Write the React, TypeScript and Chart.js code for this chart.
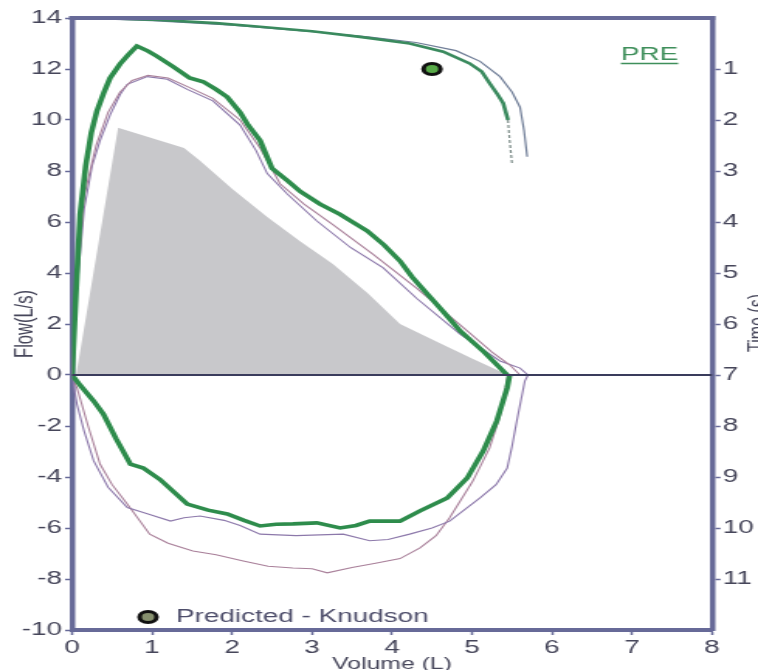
import React, { useEffect, useRef } from 'react';
import { Chart, registerables } from 'chart.js';

Chart.register(...registerables);

// ---------- data ----------
const volumeTicks = [0, 1, 2, 3, 4, 5, 6, 7, 8];
const flowTicks = [-10, -8, -6, -4, -2, 0, 2, 4, 6, 8, 10, 12, 14];
const timeTicks = [1, 2, 3, 4, 5, 6, 7, 8, 9, 10, 11];

const predictedArea = [
  [0.05, 0], [0.575, 9.7], [1.4, 8.9], [1.6, 8.4], [2.0, 7.3], [2.44, 6.2], [2.85, 5.25],
  [3.26, 4.35], [3.7, 3.2], [4.1, 2.0], [4.6, 1.25], [5.0, 0.65], [5.45, 0],
];

const predictedPoint = [[4.5, 12]];

const greenExp = [
  [0, 0], [0.03, 2], [0.07, 4.5], [0.1, 6.3], [0.17, 8.2], [0.24, 9.5], [0.31, 10.35], [0.4, 11.1],
  [0.475, 11.65], [0.6, 12.2], [0.7, 12.55], [0.81, 12.9], [0.95, 12.7], [1.06, 12.5], [1.26, 12.1],
  [1.47, 11.65], [1.64, 11.5], [1.8, 11.2], [1.94, 10.9], [2.1, 10.3], [2.2, 9.8], [2.35, 9.2],
  [2.5, 8.1], [2.7, 7.6], [2.85, 7.2], [3.1, 6.7], [3.35, 6.3], [3.69, 5.65], [3.9, 5.1], [4.1, 4.47],
  [4.25, 3.85], [4.44, 3.18], [4.65, 2.45], [4.85, 1.73], [5.15, 0.9], [5.44, 0],
];

const greenInsp = [
  [0, 0], [0.1, -0.4], [0.27, -1.02], [0.39, -1.53], [0.55, -2.5], [0.73, -3.5], [0.89, -3.65],
  [1.1, -4.1], [1.44, -5.06], [1.7, -5.3], [1.94, -5.45], [2.15, -5.7], [2.35, -5.92], [2.55, -5.85],
  [2.76, -5.84], [3.06, -5.8], [3.35, -6.0], [3.55, -5.9], [3.72, -5.73], [4.1, -5.73], [4.35, -5.33],
  [4.69, -4.82], [4.94, -4.04], [5.14, -2.98], [5.31, -1.8], [5.44, -0.5], [5.47, 0],
];

const thinExpA = [
  [0, 0], [0.05, 3], [0.15, 6.5], [0.25, 8.2], [0.35, 9.2], [0.475, 10.2], [0.6, 11.0], [0.69, 11.4],
  [0.94, 11.7], [1.19, 11.6], [1.44, 11.2], [1.76, 10.75], [2.1, 9.8], [2.3, 8.8], [2.44, 7.9],
  [2.69, 7.1], [3.06, 6.04], [3.48, 5.0], [3.89, 4.2], [4.31, 3.0], [4.85, 1.6], [5.35, 0.55],
  [5.6, 0.27], [5.7, 0],
];

const thinExpB = [
  [0, 0], [0.05, 3.2], [0.15, 7], [0.3, 9.0], [0.45, 10.3], [0.6, 11.1], [0.75, 11.55], [0.95, 11.75],
  [1.2, 11.65], [1.45, 11.3], [1.76, 10.85], [2.1, 10.0], [2.35, 8.9], [2.6, 7.5], [2.9, 6.7],
  [3.26, 5.9], [3.76, 4.74], [4.31, 3.4], [4.94, 1.73], [5.25, 0.9], [5.47, 0.4], [5.6, 0],
];

const thinInspC = [
  [0, 0], [0.03, -0.6], [0.06, -1.14], [0.15, -2.2], [0.27, -3.37], [0.45, -4.4], [0.69, -5.2],
  [0.95, -5.45], [1.23, -5.73], [1.4, -5.6], [1.6, -5.53], [1.9, -5.7], [2.1, -5.9], [2.35, -6.24],
  [2.8, -6.3], [3.39, -6.24], [3.72, -6.5], [3.95, -6.45], [4.22, -6.24], [4.5, -6.0], [4.72, -5.73],
  [5.1, -4.82], [5.3, -4.3], [5.44, -3.65], [5.5, -2.8], [5.56, -1.8], [5.66, -0.24], [5.7, 0],
];

const thinInspD = [
  [0, 0], [0.03, -0.3], [0.06, -0.5], [0.2, -2.0], [0.35, -3.5], [0.5, -4.3], [0.69, -5.06],
  [0.97, -6.24], [1.2, -6.6], [1.51, -6.9], [1.8, -7.05], [2.14, -7.29], [2.45, -7.5], [2.76, -7.57],
  [3.0, -7.6], [3.19, -7.76], [3.5, -7.55], [3.81, -7.37], [4.1, -7.2], [4.35, -6.78], [4.55, -6.3],
  [4.72, -5.6], [5.01, -4.16], [5.22, -2.86], [5.35, -1.6], [5.45, 0],
];

// volume-time curves (time in seconds on right axis)
const greenVT = [
  [0, 0], [0.5, 0.01], [1.1, 0.04], [1.8, 0.1], [2.35, 0.17], [3.0, 0.26], [3.6, 0.37], [4.22, 0.5],
  [4.64, 0.66], [4.97, 0.89], [5.12, 1.05], [5.22, 1.28], [5.32, 1.5], [5.39, 1.67], [5.45, 2.0],
];
const greenVTTail = [[5.45, 2.0], [5.47, 2.4], [5.5, 2.85]];
const thinVT = [
  [0, 0], [1.0, 0.05], [2.0, 0.14], [3.0, 0.27], [3.7, 0.37], [4.3, 0.48], [4.8, 0.64], [5.1, 0.85],
  [5.35, 1.15], [5.5, 1.45], [5.6, 1.75], [5.65, 2.2], [5.69, 2.72],
];

const legendLabel = 'Predicted - Knudson';
const trialLabel = 'PRE';

// ---------- styling ----------
const W = 489; // internal canvas width (displayed stretched to 758)
const H = 670;
const FONT = "'Liberation Sans', Arial, sans-serif";
const AXIS = '#676a98';
const TEXT = '#46465a';
const GREEN = '#2e8c4c';
const PURPLE = '#8c78aa';
const PINK = '#a9809a';

const pts = (arr: number[][]) => arr.map(([x, y]) => ({ x, y }));

const overlayPlugin = {
  id: 'overlay',
  afterDatasetsDraw(chart: any) {
    const { ctx, chartArea, scales } = chart;
    const y0 = scales.y.getPixelForValue(0);
    ctx.save();
    // zero line
    ctx.strokeStyle = '#3a3c5c';
    ctx.lineWidth = 2.2;
    ctx.beginPath();
    ctx.moveTo(chartArea.left, y0);
    ctx.lineTo(chartArea.right, y0);
    ctx.stroke();
    // top frame line
    ctx.strokeStyle = AXIS;
    ctx.lineWidth = 4;
    ctx.beginPath();
    ctx.moveTo(chartArea.left - 2, chartArea.top);
    ctx.lineTo(chartArea.right + 2, chartArea.top);
    ctx.stroke();
    // PRE label
    ctx.font = `18px ${FONT}`;
    ctx.fillStyle = '#3f8f5b';
    ctx.textAlign = 'left';
    ctx.textBaseline = 'alphabetic';
    const preX = 400.5;
    ctx.fillText(trialLabel, preX, 60);
    const pw = ctx.measureText(trialLabel).width;
    ctx.strokeStyle = '#3f8f5b';
    ctx.lineWidth = 1.6;
    ctx.beginPath();
    ctx.moveTo(preX, 63.5);
    ctx.lineTo(preX + pw, 63.5);
    ctx.stroke();
    // legend
    ctx.beginPath();
    ctx.arc(95.5, 617, 5.5, 0, Math.PI * 2);
    ctx.fillStyle = '#86906e';
    ctx.fill();
    ctx.lineWidth = 3;
    ctx.strokeStyle = '#111';
    ctx.stroke();
    ctx.font = `18px ${FONT}`;
    ctx.fillStyle = '#4d4d6a';
    ctx.textBaseline = 'middle';
    ctx.fillText(legendLabel, 113.5, 617);
    // right axis title (mostly cut off)
    ctx.translate(494, 323);
    ctx.rotate(-Math.PI / 2);
    ctx.font = `16px ${FONT}`;
    ctx.fillStyle = TEXT;
    ctx.textAlign = 'center';
    ctx.textBaseline = 'alphabetic';
    ctx.fillText('Time (s)', 0, 0);
    ctx.restore();
  },
};

export default function App() {
  const ref = useRef<HTMLCanvasElement | null>(null);

  useEffect(() => {
    if (!ref.current) return;
    const line = (data: number[][], color: string, width: number, extra: any = {}) => ({
      type: 'line',
      data: pts(data),
      borderColor: color,
      borderWidth: width,
      pointRadius: 0,
      fill: false,
      tension: 0,
      ...extra,
    });

    const tickFont = { family: FONT, size: 18 };

    const chart = new Chart(ref.current, {
      type: 'line',
      data: {
        datasets: [
          {
            type: 'scatter',
            data: pts(predictedPoint),
            pointRadius: 5.5,
            pointBorderWidth: 3,
            pointBackgroundColor: '#58aa48',
            pointBorderColor: '#111',
            showLine: false,
          },
          line(greenExp, GREEN, 3.6),
          line(greenInsp, GREEN, 3.6),
          line(greenVT, '#3a8a5e', 2.6, { yAxisID: 'y2' }),
          line(greenVTTail, '#7a8a86', 1.2, { yAxisID: 'y2', borderDash: [3, 2] }),
          line(thinVT, '#6e7c96', 1.2, { yAxisID: 'y2' }),
          line(thinExpB, PINK, 1.1),
          line(thinExpA, PURPLE, 1.1),
          line(thinInspC, PURPLE, 1.1),
          line(thinInspD, PINK, 1.1),
          {
            type: 'line',
            data: pts(predictedArea),
            borderWidth: 0,
            borderColor: 'rgba(0,0,0,0)',
            backgroundColor: '#c8c8cb',
            fill: 'origin',
            pointRadius: 0,
            tension: 0,
          },
        ],
      } as any,
      options: {
        animation: false,
        responsive: false,
        devicePixelRatio: 1,
        layout: { padding: { top: 18, left: 0, right: 0, bottom: 0 } },
        plugins: { legend: { display: false }, tooltip: { enabled: false } },
        scales: {
          x: {
            type: 'linear',
            position: 'bottom',
            min: volumeTicks[0],
            max: volumeTicks[volumeTicks.length - 1],
            afterBuildTicks: (s: any) => { s.ticks = volumeTicks.map((v) => ({ value: v })); },
            ticks: { font: tickFont, color: TEXT, padding: 2, maxRotation: 0, autoSkip: false },
            grid: { drawOnChartArea: false, drawTicks: true, tickLength: 5, tickColor: AXIS, tickWidth: 1.5 },
            border: { display: true, color: AXIS, width: 4 },
            title: { display: true, text: 'Volume (L)', font: { family: FONT, size: 16 }, color: TEXT, padding: { top: 0, bottom: -4 } },
            afterFit: (s: any) => { s.height = 40; },
          },
          y: {
            type: 'linear',
            position: 'left',
            min: flowTicks[0],
            max: flowTicks[flowTicks.length - 1],
            afterBuildTicks: (s: any) => { s.ticks = flowTicks.map((v) => ({ value: v })); },
            ticks: { font: tickFont, color: TEXT, padding: 2, autoSkip: false },
            grid: { drawOnChartArea: false, drawTicks: true, tickLength: 4.5, tickColor: AXIS, tickWidth: 1.5 },
            border: { display: true, color: AXIS, width: 3.5 },
            title: { display: true, text: 'Flow(L/s)', font: { family: FONT, size: 16.5 }, color: TEXT, padding: { top: 6.5, bottom: 0 } },
            afterFit: (s: any) => { s.width = 46.5; },
          },
          y2: {
            type: 'linear',
            position: 'right',
            reverse: true,
            min: 0,
            max: 12,
            afterBuildTicks: (s: any) => { s.ticks = timeTicks.map((v) => ({ value: v })); },
            ticks: { font: tickFont, color: TEXT, padding: 1.5, autoSkip: false },
            grid: { drawOnChartArea: false, drawTicks: true, tickLength: 5.5, tickColor: AXIS, tickWidth: 1.5 },
            border: { display: true, color: AXIS, width: 3.5 },
            afterFit: (s: any) => { s.width = W - 459.3; },
          },
        },
      } as any,
      plugins: [overlayPlugin],
    });
    return () => chart.destroy();
  }, []);

  return (
    <div style={{ position: 'absolute', left: 0, top: 0, width: 758, height: 670, background: '#fff' }}>
      <canvas ref={ref} width={W} height={H} style={{ width: '758px', height: '670px', display: 'block' }} />
    </div>
  );
}
